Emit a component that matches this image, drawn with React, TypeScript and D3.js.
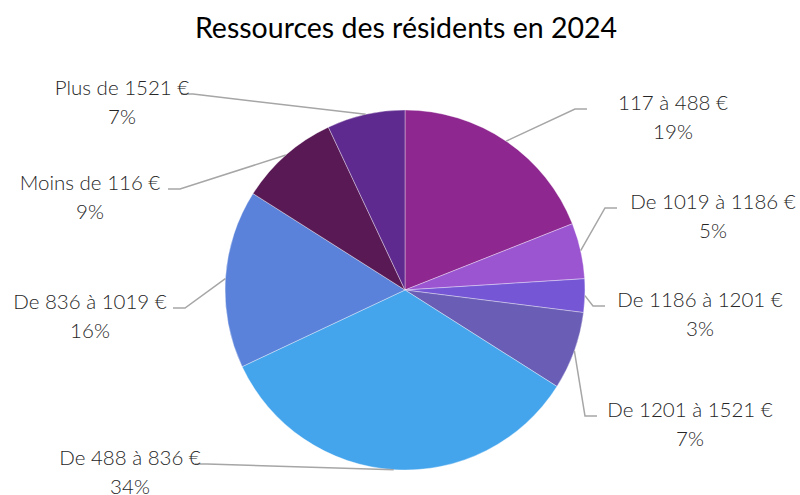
import React from "react";
import * as d3 from "d3";

const categories = [
  "117 à 488 €",
  "De 1019 à 1186 €",
  "De 1186 à 1201 €",
  "De 1201 à 1521 €",
  "De 488 à 836 €",
  "De 836 à 1019 €",
  "Moins de 116 €",
  "Plus de 1521 €",
];
const values = [19, 5, 3, 7, 34, 16, 9, 7];
const colors = ["#8E278F", "#9B55D1", "#7557D6", "#6A5DB6", "#45A5EC", "#5A82DA", "#591955", "#5F2A8F"];

// label layout: text center x, first-line baseline y, elbow x, side
const labelLayout = [
  { x: 673, y: 110, ex: 575, side: "right" },
  { x: 713, y: 209, ex: 605, side: "right" },
  { x: 700, y: 307, ex: 593, side: "right" },
  { x: 690, y: 417, ex: 585, side: "right" },
  { x: 130, y: 465, ex: 207, side: "left" },
  { x: 90, y: 309, ex: 185, side: "left" },
  { x: 90, y: 190, ex: 180, side: "left" },
  { x: 122, y: 95, ex: 193, side: "left" },
];

export default function App() {
  const W = 800, H = 495;
  const cx = 405, cy = 290, r = 180;
  const pie = d3.pie<number>().value((d) => d).sort(null);
  const arcs = pie(values);
  const arc = d3.arc<d3.PieArcDatum<number>>().innerRadius(0).outerRadius(r);
  const font = "Lato, 'Open Sans', sans-serif";
  const total = d3.sum(values);
  return (
    <svg width={W} height={H} style={{ position: "absolute", left: 0, top: 0 }}>
      <rect width={W} height={H} fill="#fff" />
      <text x={406} y={38} textAnchor="middle" fontFamily={font} fontSize={28.5} fill="#000">
        Ressources des résidents en 2024
      </text>
      <g transform={`translate(${cx},${cy})`}>
        {arcs.map((a, i) => (
          <path key={i} d={arc(a) || ""} fill={colors[i]} stroke="#fff" strokeWidth={0.6} strokeOpacity={0.6} />
        ))}
      </g>
      {arcs.map((a, i) => {
        const mid = (a.startAngle + a.endAngle) / 2;
        const px = cx + r * Math.sin(mid);
        const py = cy - r * Math.cos(mid);
        const L = labelLayout[i];
        const ly = L.y - 1;
        const tx = L.side === "right" ? L.ex + 12 : L.ex - 12;
        return (
          <g key={i}>
            <polyline
              points={`${px},${py} ${L.ex},${ly} ${tx},${ly}`}
              fill="none"
              stroke="#A6A6A6"
              strokeWidth={1.5}
            />
            <text x={L.x} y={L.y} textAnchor="middle" fontFamily={font} fontWeight={300} fontSize={20.5} fill="#262626">
              {categories[i]}
            </text>
            <text x={L.x} y={L.y + 29} textAnchor="middle" fontFamily={font} fontWeight={300} fontSize={20.5} fill="#262626">
              {Math.round((values[i] / total) * 100)}%
            </text>
          </g>
        );
      })}
    </svg>
  );
}
